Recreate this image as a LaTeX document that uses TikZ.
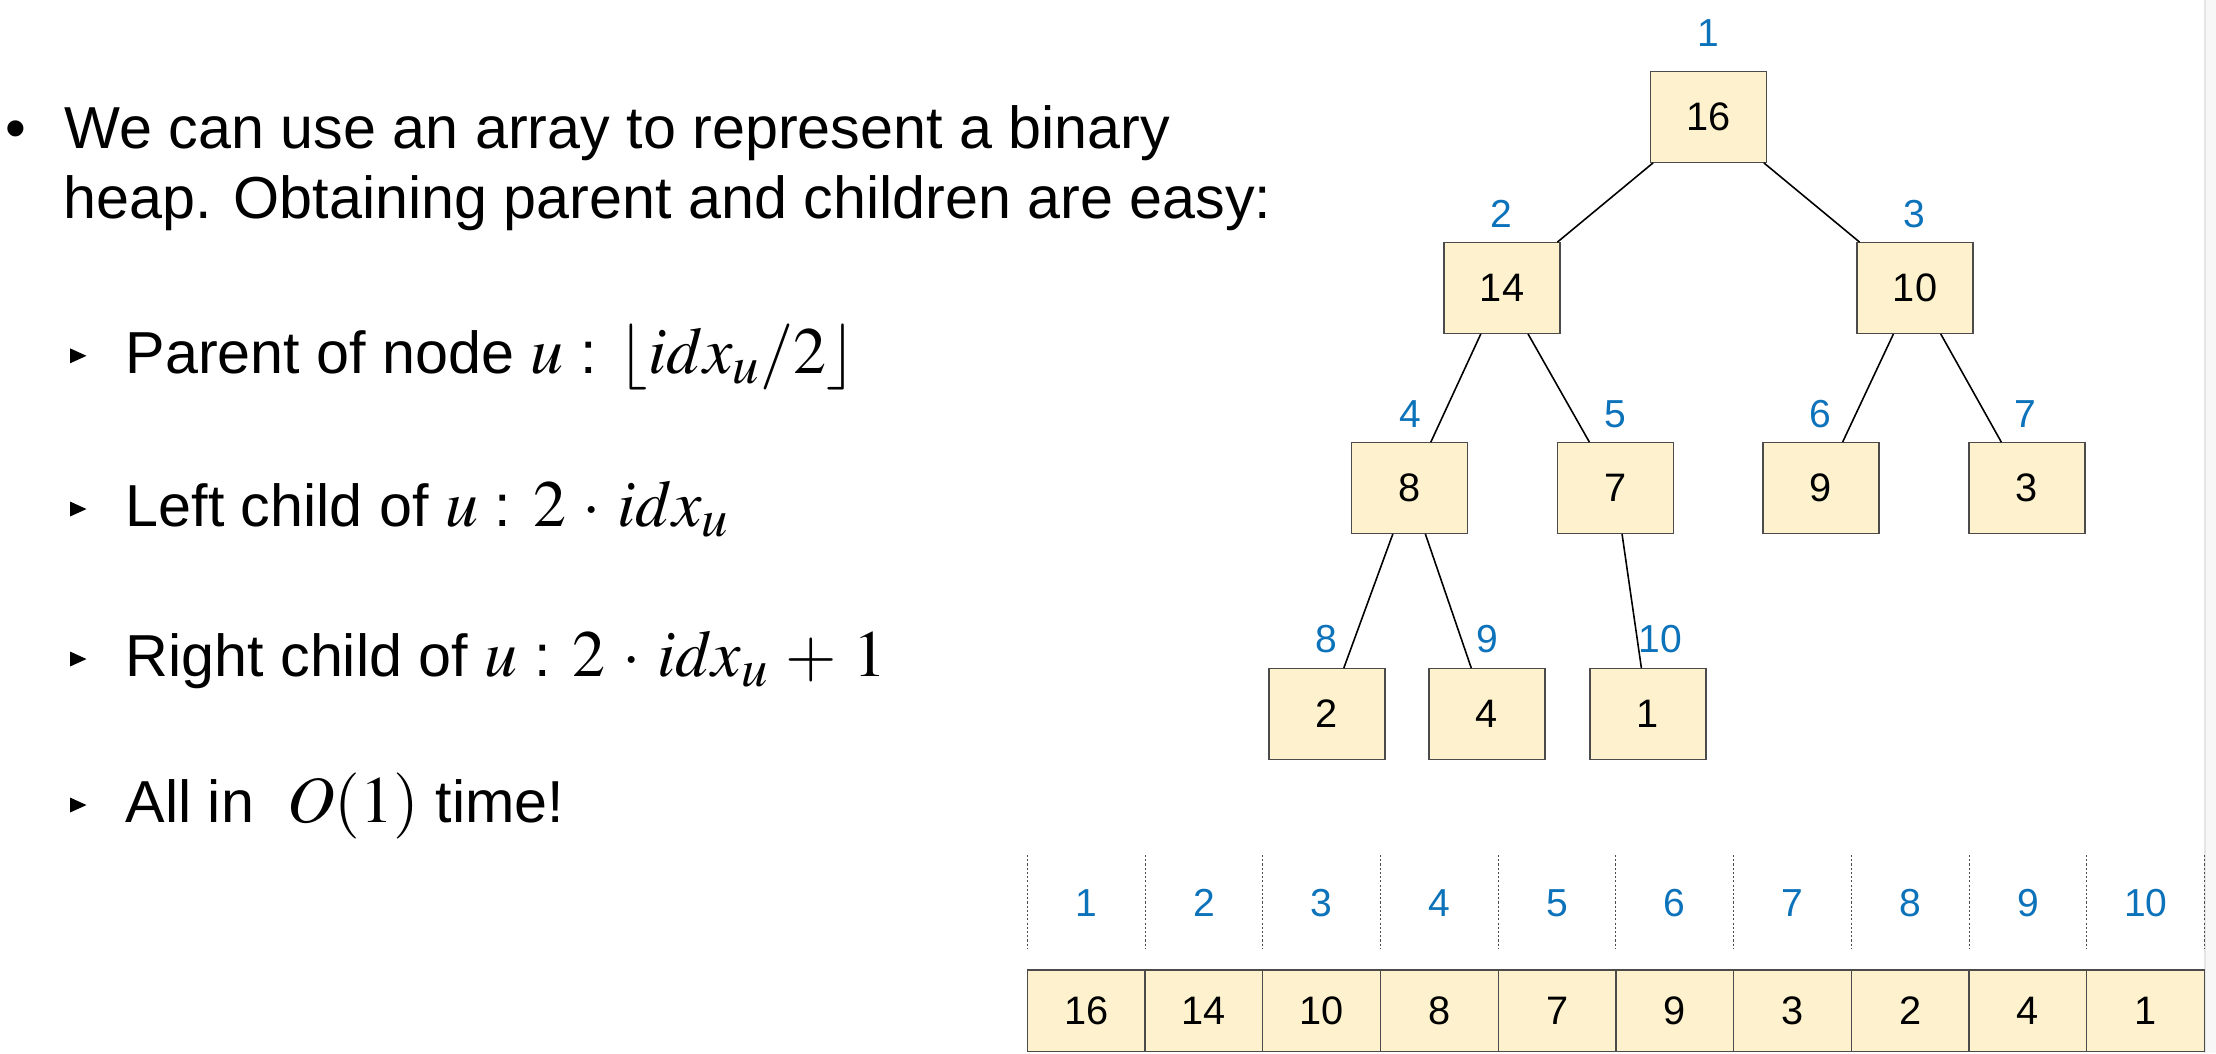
\documentclass[tikz,border=0pt]{standalone}
\usepackage{mathptmx}
\usepackage{fontspec}
\setmainfont{Liberation Sans}
\usetikzlibrary{calc}
\DeclareMathSizes{18.8}{18.8}{15}{11}
\definecolor{idxblue}{RGB}{12,114,186}
\definecolor{cellfill}{RGB}{253,242,205}
\definecolor{cellline}{RGB}{75,75,75}
\newcommand{\mth}[1]{{\fontsize{18.8}{20}\selectfont$#1$}}
\newcommand{\mdot}{\mathbin{\,\cdot\,}}
\newcommand{\mplus}{\mathbin{\,+\,}}
\begin{document}
\begin{tikzpicture}[x=0.01cm,y=-0.01cm,
  txt/.style={inner sep=0pt, anchor=base west, font=\fontsize{16.85}{20}\selectfont},
  heapbox/.style={draw=cellline, fill=cellfill, line width=0.35pt, minimum width=1.16cm, minimum height=0.905cm, inner sep=0pt, font=\fontsize{11.3}{13}\selectfont},
  cell/.style={heapbox, minimum width=1.1772cm, minimum height=0.817cm},
  idx/.style={inner sep=0pt, text=idxblue, font=\fontsize{11.1}{13}\selectfont},
  edge/.style={line width=0.45pt, black},
  sep/.style={dash pattern=on 0.6pt off 0.6pt, line width=0.3pt, black!70}]

\useasboundingbox (0,0) rectangle (2216,1053);
\fill[white] (0,0) rectangle (2216,1053);
\fill[black!3] (2205,0) rectangle (2216,1053);
\draw[black!10, line width=0.4pt] (2205,0) -- (2205,1053);

% bullet text
\node[txt] (bul) at (4.8,148.3) {•};
\node[txt] (t1) at (64,148.3) {We can use an array to represent a binary};
\node[txt] (t2) at (63,218.3) {heap. Obtaining parent and children are easy:};

\foreach \c in {355.8,509,659,805}
  \fill (70,{\c-7.5}) -- (70,{\c+7.5}) -- (86.5,\c) -- cycle;

\node[txt] (s1) at (125,373.3) {Parent of node \mth{u} : \mth{\lfloor idx_u/2\rfloor}};
\node[txt] (s2) at (125,526.7) {Left child of \mth{u} : \mth{2\mdot idx_u}};
\node[txt] (s3) at (125,676.7) {Right child of \mth{u} : \mth{2\mdot idx_u\mplus 1}};
\node[txt] (s4) at (125,822) {All in\ \ \mth{O(1)} time!};

% tree
\node[heapbox] (r1) at (1708.4,117) {16};
\node[heapbox] (r2) at (1502,288) {14};
\node[heapbox] (r3) at (1915,288) {10};
\node[heapbox] (r4) at (1409.6,488) {8};
\node[heapbox] (r5) at (1615.4,488) {7};
\node[heapbox] (r6) at (1821,488) {9};
\node[heapbox] (r7) at (2027,488) {3};
\node[heapbox] (r8) at (1327,714) {2};
\node[heapbox] (r9) at (1487,714) {4};
\node[heapbox] (r10) at (1648,714) {1};

\draw[edge] (r1)--(r2) (r1)--(r3) (r2)--(r4) (r2)--(r5) (r3)--(r6) (r3)--(r7)
            (r4)--(r8) (r4)--(r9) (r5)--(r10);

\node[idx] (l1) at (1708,33) {1};
\node[idx] (l2) at (1501.4,214) {2};
\node[idx] (l3) at (1914,214) {3};
\node[idx] (l4) at (1410,414) {4};
\node[idx] (l5) at (1615,414) {5};
\node[idx] (l6) at (1820,414) {6};
\node[idx] (l7) at (2025,414) {7};
\node[idx] (l8) at (1326.7,639) {8};
\node[idx] (l9) at (1487.3,639) {9};
\node[idx] (l10) at (1660,639) {10};

% array
\foreach \v [count=\k] in {16,14,10,8,7,9,3,2,4,1} {
  \node[cell] (a\k) at ({1086.2+117.72*(\k-1)},1010.8) {\v};
  \node[idx] (i\k) at ({1086.2+117.72*(\k-1)},903.3) {\k};
}
\foreach \k in {0,...,10}
  \draw[sep] ({1027.3+117.72*\k},855) -- ({1027.3+117.72*\k},949);
\end{tikzpicture}
\end{document}
